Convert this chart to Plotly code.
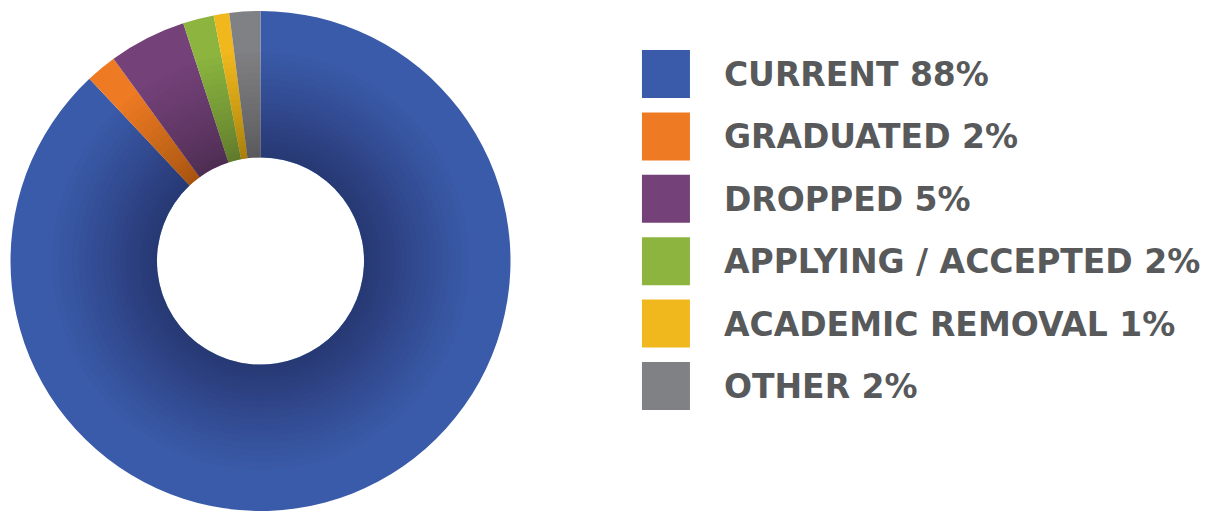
import plotly.graph_objects as go

# Status breakdown
categories = ["CURRENT", "GRADUATED", "DROPPED", "APPLYING / ACCEPTED", "ACADEMIC REMOVAL", "OTHER"]
percents = [88, 2, 5, 2, 1, 2]
colors = ["#3A5BA9", "#EE7A23", "#744279", "#8CB43F", "#F1B81D", "#808185"]

W, H = 1219, 512
cx, cy, R = 260.5, 261.0, 250.0   # donut centre and outer radius (px)
r_in = 103.5                       # hole radius (px)
text_color = "#58595B"


def ring_domain(radius):
    return dict(
        x=[(cx - radius) / W, (cx + radius) / W],
        y=[1 - (cy + radius) / H, 1 - (cy - radius) / H],
    )


fig = go.Figure()

fig.add_trace(go.Pie(
    labels=categories,
    values=percents,
    marker=dict(colors=colors, line=dict(width=0)),
    hole=r_in / R,
    sort=False,
    direction="clockwise",
    rotation=0,
    textinfo="none",
    hoverinfo="label+percent",
    showlegend=False,
    domain=ring_domain(R),
))

# soft inner shading: stacked translucent rings that darken toward the hole
n_rings = 20
for k in range(1, n_rings + 1):
    r_out = r_in + 105.0 * (k / n_rings) ** 1.3
    fig.add_trace(go.Pie(
        values=[1],
        marker=dict(colors=["rgba(0,0,0,0.0145)"], line=dict(width=0)),
        hole=r_in / r_out,
        sort=False,
        textinfo="none",
        hoverinfo="skip",
        showlegend=False,
        domain=ring_domain(r_out),
    ))

# legend rows: colour squares and labels
legend_labels = [f"{c} {p}%" for c, p in zip(categories, percents)]
rows = list(range(len(categories)))

fig.add_trace(go.Scatter(
    x=[0] * len(rows), y=rows,
    mode="markers",
    marker=dict(symbol="square", size=48, color=colors, line=dict(width=0)),
    hoverinfo="skip", showlegend=False,
    xaxis="x", yaxis="y",
))
fig.add_trace(go.Scatter(
    x=[1.16] * len(rows), y=[r + 0.06 for r in rows],
    mode="text",
    text=legend_labels,
    textposition="middle right",
    marker=dict(size=1),
    textfont=dict(family="DejaVu Sans", size=33, color=text_color, weight="bold"),
    hoverinfo="skip", showlegend=False,
    xaxis="x", yaxis="y",
))

row_px = 62.4
top_row_px = 74.0
y_top = -top_row_px / row_px
y_bot = y_top + H / row_px

fig.update_layout(
    width=W, height=H,
    margin=dict(l=0, r=0, t=0, b=0),
    paper_bgcolor="white",
    plot_bgcolor="rgba(0,0,0,0)",
    xaxis=dict(domain=[0.5, 1.0], range=[-1.13, 11.07], visible=False, fixedrange=True),
    yaxis=dict(domain=[0, 1], range=[y_bot, y_top], visible=False, fixedrange=True),
    showlegend=False,
)

fig.write_html("out.html")
